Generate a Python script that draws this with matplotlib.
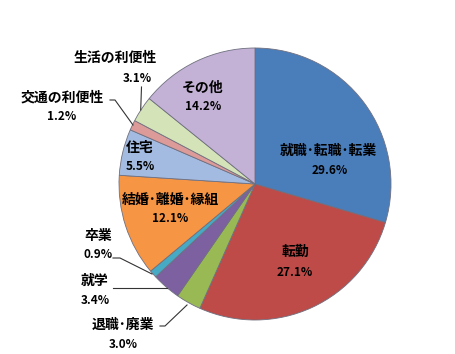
import matplotlib.pyplot as plt

plt.rcParams['font.family'] = ['Noto Sans CJK JP', 'DejaVu Sans']

# 転出理由の内訳（%）
labels = ['就職･転職･転業', '転勤', '退職･廃業', '就学', '卒業',
          '結婚･離婚･縁組', '住宅', '交通の利便性', '生活の利便性', 'その他']
values = [29.6, 27.1, 3.0, 3.4, 0.9, 12.1, 5.5, 1.2, 3.1, 14.2]
colors = ['#4a7ebb', '#be4b48', '#98b954', '#7d60a0', '#46aac5',
          '#f69544', '#a3bbe0', '#dc9a98', '#d5e3b8', '#c3b2d6']

W, H = 456, 354
fig = plt.figure(figsize=(W / 100, H / 100), dpi=100)
ax = fig.add_axes([0, 0, 1, 1])

ax.pie(values, colors=colors, startangle=90, counterclock=False,
       center=(255, H - 184), radius=136,
       wedgeprops=dict(edgecolor='#6f6f7f', linewidth=0.6))
ax.set_xlim(0, W)
ax.set_ylim(0, H)
ax.axis('off')

# ラベル位置（ピクセル座標：名前の中心）
label_pos = [(328, 151), (295, 252), (123, 325), (95, 281), (98, 236),
             (170, 200), (140, 148), (62, 98), (115, 58), (203, 88)]
pct_pos = [(330, 171), (295, 272), (123, 345), (95, 300), (98, 255),
           (170, 219), (140, 167), (62, 117), (137, 79), (203, 107)]

for name, v, (lx, ly), (px, py) in zip(labels, values, label_pos, pct_pos):
    ax.text(lx, H - ly, name, ha='center', va='center', fontsize=10, fontweight='bold')
    ax.text(px, H - py, f'{v:.1f}%', ha='center', va='center', fontsize=8.5, fontweight='bold')

# 引き出し線
leaders = [
    [(141.5, 87), (140.7, 110)],
    [(110, 100), (115, 100), (133, 125)],
    [(113, 258), (120, 258), (152, 274)],
    [(113, 288), (167, 288)],
    [(160, 326), (165, 326), (187, 305)],
]
for pts in leaders:
    xs = [p[0] for p in pts]
    ys = [H - p[1] for p in pts]
    ax.plot(xs, ys, color='#333333', linewidth=0.8)

plt.savefig('out.png', dpi=100)
